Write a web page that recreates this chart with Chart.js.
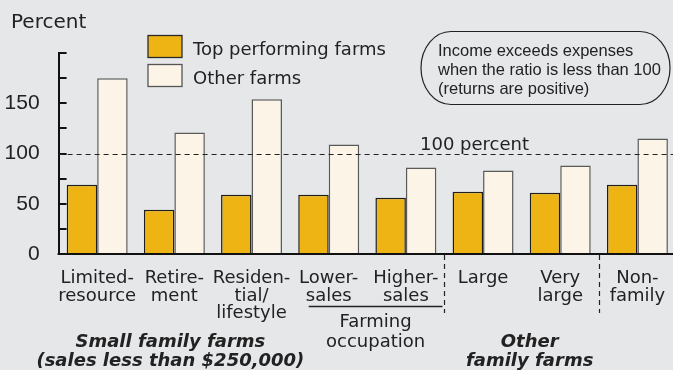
<!DOCTYPE html>
<html>
<head>
<meta charset="utf-8">
<script src="https://cdn.jsdelivr.net/npm/chart.js@4/dist/chart.umd.min.js"></script>
<style>
  html, body { margin: 0; padding: 0; background: #e6e7e9; overflow: hidden; }
  #wrap { width: 673px; height: 370px; position: relative; overflow: hidden; }
  #c { position: absolute; left: 0; top: 0; }
</style>
</head>
<body>
<div id="wrap"><canvas id="c" width="676" height="370"></canvas></div>
<script>
// Expense-to-income ratio by farm type (percent)
const categories = [
  ["Limited-", "resource"],
  ["Retire-", "ment"],
  ["Residen-", "tial/", "lifestyle"],
  ["Lower-", "sales"],
  ["Higher-", "sales"],
  ["Large"],
  ["Very", "large"],
  ["Non-", "family"]
];
const topPerforming = [69, 44, 59, 59, 56, 62, 61, 69];
const otherFarms = [175, 121, 154, 109, 86, 83, 88, 115];
const seriesNames = ["Top performing farms", "Other farms"];
const yTickLabels = [0, 50, 100, 150];
const referenceValue = 100;
const referenceLabel = "100 percent";
const axisTitle = "Percent";
const noteLines = ["Income exceeds expenses", "when the ratio is less than 100", "(returns are positive)"];
const smallFarmsLabel = ["Small family farms", "(sales less than $250,000)"];
const occupationLabel = ["Farming", "occupation"];
const otherFarmsLabel = ["Other", "family farms"];

const GOLD = "#edb414", CREAM = "#fcf5e7";
const INK = "#222";
const TEXT_FONT = "DejaVu Sans";

// pill-shaped box with elliptical ends
function pill(ctx, x, y, w, h, rx) {
  const ry = h / 2, k = 0.5523;
  ctx.beginPath();
  ctx.moveTo(x + rx, y);
  ctx.lineTo(x + w - rx, y);
  ctx.bezierCurveTo(x + w - rx + rx * k, y, x + w, y + ry - ry * k, x + w, y + ry);
  ctx.bezierCurveTo(x + w, y + ry + ry * k, x + w - rx + rx * k, y + h, x + w - rx, y + h);
  ctx.lineTo(x + rx, y + h);
  ctx.bezierCurveTo(x + rx - rx * k, y + h, x, y + ry + ry * k, x, y + ry);
  ctx.bezierCurveTo(x, y + ry - ry * k, x + rx - rx * k, y, x + rx, y);
  ctx.closePath();
}

const decorations = {
  id: "decorations",
  beforeDraw(chart) {
    const ctx = chart.ctx;
    ctx.save();
    ctx.fillStyle = "#e6e7e9";
    ctx.fillRect(0, 0, chart.width, chart.height);
    ctx.restore();
  },
  afterDatasetsDraw(chart) {
    const ctx = chart.ctx;
    const area = chart.chartArea;
    const x = chart.scales.x, y = chart.scales.y;
    ctx.save();

    // baseline drawn over the bar edges
    ctx.strokeStyle = "#111";
    ctx.lineWidth = 2;
    const by = Math.round(y.getPixelForValue(0));
    ctx.beginPath();
    ctx.moveTo(area.left - 1, by);
    ctx.lineTo(chart.width, by);
    ctx.stroke();

    // inward tick marks on the value axis
    for (let v = 25; v <= 200; v += 25) {
      const py = Math.round(y.getPixelForValue(v));
      ctx.beginPath();
      ctx.moveTo(area.left, py);
      ctx.lineTo(area.left + 8, py);
      ctx.stroke();
    }

    // dashed reference line
    const ry = Math.round(y.getPixelForValue(referenceValue)) + 0.5;
    ctx.setLineDash([5, 4]);
    ctx.lineWidth = 1.2;
    ctx.strokeStyle = INK;
    ctx.beginPath();
    ctx.moveTo(area.left, ry);
    ctx.lineTo(chart.width, ry);
    ctx.stroke();
    ctx.setLineDash([]);

    ctx.fillStyle = INK;
    ctx.textBaseline = "alphabetic";
    ctx.font = "18px '" + TEXT_FONT + "'";
    ctx.textAlign = "left";
    ctx.fillText(referenceLabel, 420, ry - 5);

    // axis title
    ctx.font = "20px '" + TEXT_FONT + "'";
    ctx.fillText(axisTitle, 11, 28);

    // legend
    const sw = [[GOLD, "#2a2a2a"], [CREAM, "#555"]];
    const legendTop = [35.5, 64.5];
    ctx.font = "18px '" + TEXT_FONT + "'";
    for (let i = 0; i < 2; i++) {
      ctx.fillStyle = sw[i][0];
      ctx.fillRect(148, legendTop[i], 34, 22);
      ctx.strokeStyle = sw[i][1];
      ctx.lineWidth = 1.3;
      ctx.strokeRect(148, legendTop[i], 34, 22);
      ctx.fillStyle = INK;
      ctx.fillText(seriesNames[i], 193, legendTop[i] + 19);
    }

    // note box
    ctx.strokeStyle = INK;
    ctx.lineWidth = 1.2;
    pill(ctx, 421, 31.5, 249, 73, 30);
    ctx.stroke();
    ctx.font = "16.5px 'Liberation Sans'";
    ctx.fillStyle = INK;
    noteLines.forEach((t, i) => ctx.fillText(t, 438, 56 + i * 19));

    // dashed group separators below the axis
    const catW = x.getPixelForValue(1) - x.getPixelForValue(0);
    ctx.setLineDash([5, 4]);
    ctx.lineWidth = 1.2;
    ctx.strokeStyle = INK;
    [5, 7].forEach(idx => {
      const px = Math.round(x.getPixelForValue(idx) - catW / 2) + 0.5;
      ctx.beginPath();
      ctx.moveTo(px, area.bottom + 1);
      ctx.lineTo(px, area.bottom + 59);
      ctx.stroke();
    });
    ctx.setLineDash([]);

    // farming occupation bracket line
    const lx0 = x.getPixelForValue(3) - 20;
    const lx1 = x.getPixelForValue(4) + catW / 2 - 2;
    ctx.lineWidth = 1.3;
    ctx.beginPath();
    ctx.moveTo(lx0, 306.5);
    ctx.lineTo(lx1, 306.5);
    ctx.stroke();

    ctx.textAlign = "center";
    ctx.font = "18px '" + TEXT_FONT + "'";
    const occX = (lx0 + lx1) / 2;
    occupationLabel.forEach((t, i) => ctx.fillText(t, occX, 327 + i * 20));

    // group titles
    ctx.font = "italic bold 18px '" + TEXT_FONT + "'";
    const smallX = (x.getPixelForValue(0) + x.getPixelForValue(2)) / 2 - 4;
    smallFarmsLabel.forEach((t, i) => ctx.fillText(t, smallX, 347 + i * 19));
    const otherX = (x.getPixelForValue(5) + x.getPixelForValue(6)) / 2 + 8;
    otherFarmsLabel.forEach((t, i) => ctx.fillText(t, otherX, 347 + i * 19));

    ctx.restore();
  }
};

new Chart(document.getElementById("c"), {
  type: "bar",
  data: {
    labels: categories,
    datasets: [
      {
        label: seriesNames[0],
        data: topPerforming,
        backgroundColor: GOLD,
        borderColor: "#1e1e1e",
        borderWidth: 1.5,
        categoryPercentage: 0.79,
        barPercentage: 1
      },
      {
        label: seriesNames[1],
        data: otherFarms,
        backgroundColor: CREAM,
        borderColor: "#5a5a5a",
        borderWidth: 1.5,
        categoryPercentage: 0.79,
        barPercentage: 1
      }
    ]
  },
  options: {
    responsive: false,
    animation: false,
    devicePixelRatio: 1,
    layout: { padding: { top: 53, right: 0, left: 0, bottom: 0 } },
    plugins: { legend: { display: false }, tooltip: { enabled: false } },
    scales: {
      x: {
        grid: { display: false },
        border: { display: true, color: "#111", width: 2 },
        ticks: {
          color: INK,
          autoSkip: false,
          maxRotation: 0,
          padding: 8,
          font: { family: TEXT_FONT, size: 18, lineHeight: 0.96 }
        },
        afterFit(s) { s.height = 116; }
      },
      y: {
        min: 0,
        max: 200,
        grid: { display: false },
        border: { display: true, color: "#111", width: 2 },
        ticks: {
          stepSize: 25,
          padding: 11,
          color: INK,
          font: { family: "Liberation Sans", size: 21 },
          callback: v => yTickLabels.includes(v) ? String(v) : ""
        },
        afterFit(s) { s.width = 58.6; }
      }
    }
  },
  plugins: [decorations]
});
</script>
</body>
</html>
